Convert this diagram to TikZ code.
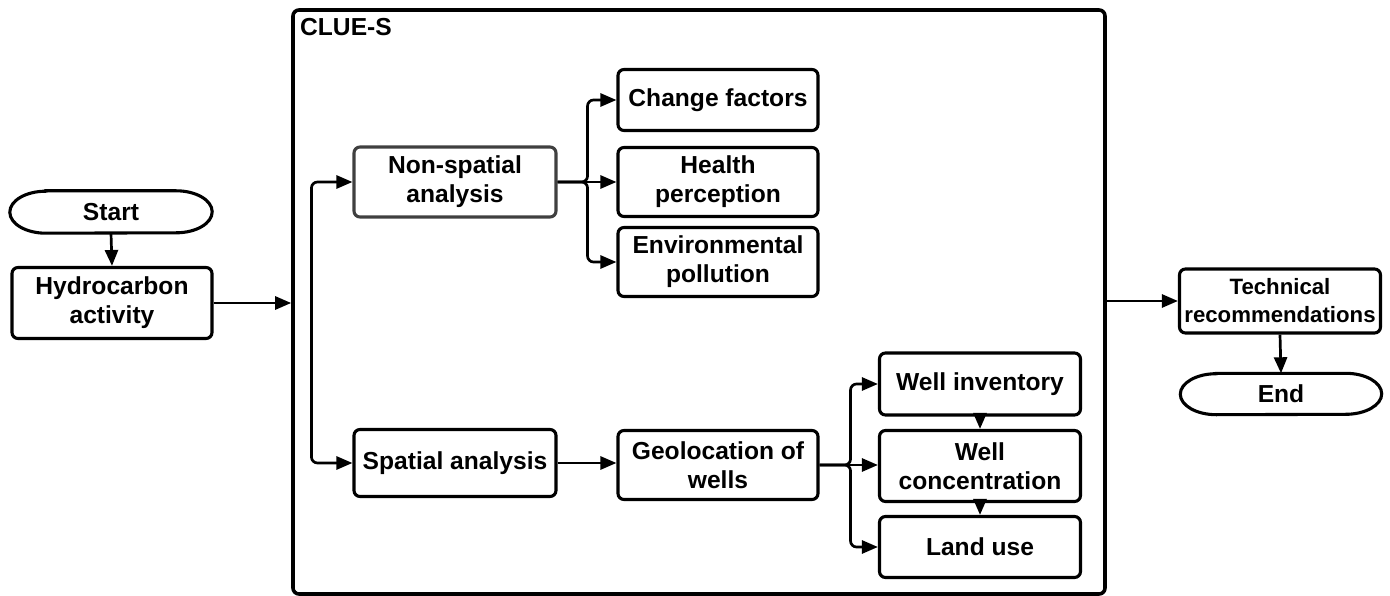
\documentclass[tikz,border=0pt]{standalone}
\usepackage{fontspec}
\setmainfont{Liberation Sans}
\usetikzlibrary{arrows.meta}
\newcommand\lab{\fontsize{24.6}{29}\selectfont\bfseries}
\newcommand\labs{\fontsize{22.2}{28}\selectfont\bfseries}
\begin{document}
\begin{tikzpicture}[x=1pt,y=-1pt,
  box/.style={draw, line width=3.1pt, rounded corners=6pt, inner sep=0pt, align=center, font=\lab, minimum width=200pt},
  term/.style={inner sep=0pt, align=center, font=\lab, minimum width=202pt, minimum height=42pt},
  arr/.style={line width=2.7pt, -{Triangle[length=16pt,width=13pt]}},
  tline/.style={line width=3.1pt}
]
\useasboundingbox (0,0) rectangle (1390,596);
% container
\node[draw, line width=3.6pt, rounded corners=6pt, minimum width=812pt, minimum height=584pt, inner sep=0pt] (clue) at (699,302) {};
\node[anchor=west, font=\lab, inner sep=0pt] (cluelab) at (300,27) {CLUE-S};
% left
\node[term] (start) at (111,212) {Start};
\draw[tline] ([xshift=36pt]start.north west) -- ([xshift=-36pt]start.north east)
  arc[start angle=90, end angle=-90, x radius=36pt, y radius=21pt]
  -- ([xshift=36pt]start.south west)
  arc[start angle=-90, end angle=-270, x radius=36pt, y radius=21pt] -- cycle;
\node[box, minimum height=71pt] (hc) at (112,303) {Hydrocarbon\\activity};
% inside
\node[box, minimum width=202pt, minimum height=70pt, draw=black!75] (ns) at (455,182) {Non-spatial\\analysis};
\node[box, minimum width=202pt, minimum height=67pt] (sa) at (455,463) {Spatial analysis};
\node[box, minimum height=61pt] (cf) at (718,100) {Change factors};
\node[box, minimum height=69pt] (hp) at (718,182) {Health\\perception};
\node[box, minimum height=69pt] (ep) at (718,262) {Environmental\\pollution};
\node[box, minimum height=69pt] (geo) at (718,465) {Geolocation of\\wells};
\node[box, minimum width=201pt, minimum height=62pt] (wi) at (980,384) {Well inventory};
\node[box, minimum width=201pt, minimum height=71pt] (wc) at (980,466) {Well\\concentration};
\node[box, minimum width=201pt, minimum height=61pt] (lu) at (980,547) {Land use};
% right
\node[box, minimum width=201pt, minimum height=64pt, font=\labs] (tr) at (1280,301) {Technical\\recommendations};
\node[term, minimum width=201pt, minimum height=41pt] (end) at (1281,394) {End};
\draw[tline] ([xshift=36pt]end.north west) -- ([xshift=-36pt]end.north east)
  arc[start angle=90, end angle=-90, x radius=36pt, y radius=20.5pt]
  -- ([xshift=36pt]end.south west)
  arc[start angle=-90, end angle=-270, x radius=36pt, y radius=20.5pt] -- cycle;
% connectors
\draw[arr] (start.south) -- (hc.north);
\draw[arr] (hc.east) -- (hc.east -| clue.west);
\draw[arr] (tr.west -| clue.east) -- (tr.west);
\draw[arr] (tr.south) -- (end.north);
\draw[line width=2.7pt, {Triangle[length=16pt,width=13pt]}-{Triangle[length=16pt,width=13pt]}, rounded corners=6pt] (ns.west) -- ++(-41,0) |- (sa.west);
\draw[arr, rounded corners=6pt] (ns.east) -- ++(30,0) |- (cf.west);
\draw[arr] (ns.east) -- (hp.west);
\draw[arr, rounded corners=6pt] (ns.east) -- ++(30,0) |- (ep.west);
\draw[arr] (sa.east) -- (sa.east -| geo.west);
\draw[arr, rounded corners=6pt] (geo.east) -- ++(31,0) |- (wi.west);
\draw[arr] (geo.east) -- (geo.east -| wc.west);
\draw[arr, rounded corners=6pt] (geo.east) -- ++(31,0) |- (lu.west);
\draw[arr] (wi.south) -- (wc.north);
\draw[arr] (wc.south) -- (lu.north);
\end{tikzpicture}
\end{document}
